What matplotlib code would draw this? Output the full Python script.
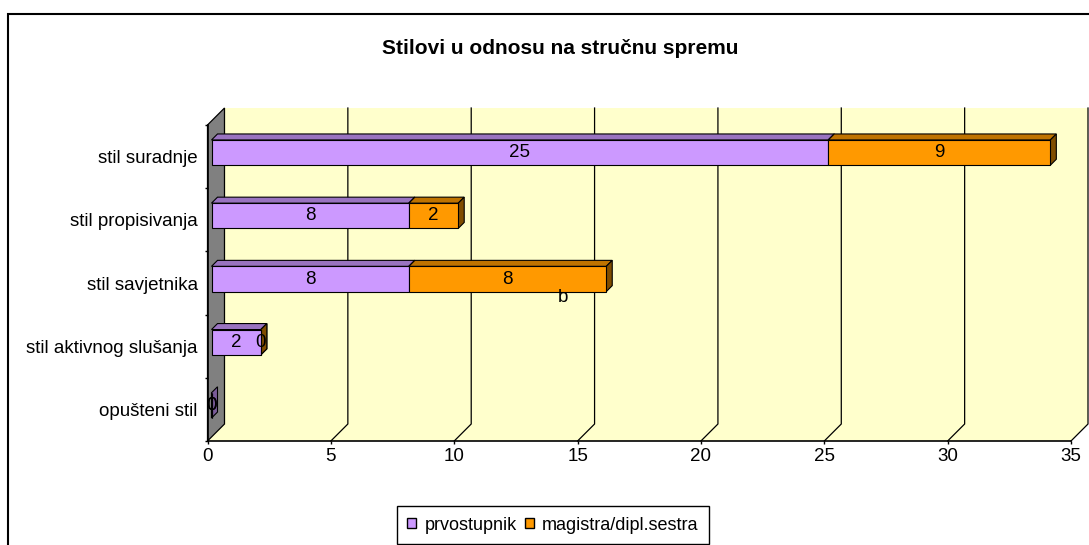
import matplotlib
matplotlib.use('Agg')
import numpy as np
import matplotlib.pyplot as plt
from matplotlib.patches import Polygon, Rectangle, Patch
from matplotlib.lines import Line2D
from matplotlib.transforms import Affine2D, IdentityTransform

categories = ["stil suradnje", "stil propisivanja", "stil savjetnika",
              "stil aktivnog slušanja", "opušteni stil"]
prvostupnik = [25, 8, 8, 2, 0]
magistra = [9, 2, 8, 0, 0]
series_names = ["prvostupnik", "magistra/dipl.sestra"]
x_ticks = [0, 5, 10, 15, 20, 25, 30, 35]

plt.rcParams['font.family'] = ['Liberation Sans', 'DejaVu Sans']
FS = 13.5

W, H = 1089, 545
fig = plt.figure(figsize=(W / 100, H / 100), dpi=100)
ax = fig.add_axes([207.5 / W, 1 - 441 / H, (1071 - 207.5) / W, (441 - 125) / H])
ax.set_xlim(0, 35)
ax.set_ylim(4.5, -0.5)
ax.patch.set_visible(False)

# 3d depth offsets in pixels
WALL = np.array([17, 17])
BF = np.array([4, 4])     # bar front
BB = np.array([10, 10])   # bar back

def px(x, y):
    return ax.transData.transform((x, y))

ident = IdentityTransform()

# back wall + floor
y0, y1 = 4.5, -0.5
pts = [px(0, y0), px(35, y0), px(35, y0) + WALL, px(35, y1) + WALL,
       px(0, y1) + WALL, px(0, y0) + WALL]
ax.add_patch(Polygon(pts, closed=True, facecolor='#FFFFCC', edgecolor='none',
                     transform=ident, clip_on=False, zorder=0.5))

# gridlines on floor and back wall
for v in x_ticks[1:]:
    p = np.array([px(v, y0), px(v, y0) + WALL, px(v, y1) + WALL])
    ax.add_line(Line2D(p[:, 0], p[:, 1], color='black', lw=0.9,
                       transform=ident, clip_on=False, zorder=0.8))

# left wall
pts = [px(0, y0), px(0, y1), px(0, y1) + WALL, px(0, y0) + WALL]
ax.add_patch(Polygon(pts, closed=True, facecolor='#808080', edgecolor='black',
                     lw=0.9, transform=ident, clip_on=False, zorder=1))

front_colors = ['#CC99FF', '#FF9900']
top_colors = ['#9973C0', '#BF7300']
side_colors = ['#7A5C99', '#804D00']

ypos = np.arange(len(categories))
h = 0.2
front_tr = ax.transData + Affine2D().translate(*BF)
lefts = np.zeros(len(categories))
for s, vals in enumerate([prvostupnik, magistra]):
    vals = np.array(vals, dtype=float)
    ax.barh(ypos, vals, left=lefts, height=2 * h, color=front_colors[s],
            edgecolor='black', lw=0.8, transform=front_tr, clip_on=False, zorder=4)
    for i in range(len(categories)):
        l, r = lefts[i], lefts[i] + vals[i]
        if vals[i] > 0:
            a, b = px(l, i - h), px(r, i - h)
            ax.add_patch(Polygon([a + BF, b + BF, b + BB, a + BB], closed=True,
                                 facecolor=top_colors[s], edgecolor='black', lw=0.8,
                                 transform=ident, clip_on=False, zorder=3))
        if vals[i] > 0 or l > 0 or s == 0:
            a, b = px(r, i - h), px(r, i + h)
            ax.add_patch(Polygon([b + BF, a + BF, a + BB, b + BB], closed=True,
                                 facecolor=side_colors[s], edgecolor='black', lw=0.8,
                                 transform=ident, clip_on=False, zorder=3))
        ax.text(l + vals[i] / 2, i, f"{vals[i]:g}", transform=front_tr,
                ha='center', va='center', fontsize=FS, zorder=6)
    lefts = lefts + vals

# axes
for side in ['top', 'right']:
    ax.spines[side].set_visible(False)
for side in ['left', 'bottom']:
    ax.spines[side].set_linewidth(1.2)
    ax.spines[side].set_zorder(2)
ax.set_xticks(x_ticks)
ax.set_yticks(ypos)
ax.set_yticklabels(categories)
ax.set_yticks(np.arange(-0.5, 5, 1), minor=True)
ax.tick_params(axis='y', which='major', length=0, pad=7, labelsize=FS)
ax.tick_params(axis='y', which='minor', length=2.5, width=1)
ax.tick_params(axis='x', length=2.5, width=1, pad=2.5, labelsize=FS)

# title, stray label, legend
fig.text(560 / W, 1 - 48 / H, "Stilovi u odnosu na stručnu spremu",
         fontsize=15, fontweight='bold', ha='center', va='center')
fig.text(563 / W, 1 - 298 / H, "b", fontsize=FS, ha='center', va='center')

handles = [Patch(facecolor=c, edgecolor='black', lw=1) for c in front_colors]
leg = fig.legend(handles, series_names, loc='center',
                 bbox_to_anchor=(553 / W, 1 - 525 / H), ncol=2, fontsize=13,
                 fancybox=False, edgecolor='black', framealpha=1,
                 handlelength=0.5, handleheight=0.5, handletextpad=0.45,
                 columnspacing=0.45, borderpad=0.6)
leg.get_frame().set_linewidth(1)

# outer chart border
fig.add_artist(Rectangle((7.5 / W, -0.1), 1.2, 1 - 13.5 / H + 0.1,
                         transform=fig.transFigure, fill=False,
                         edgecolor='black', lw=1.5))

fig.savefig('out.png', dpi=100)
